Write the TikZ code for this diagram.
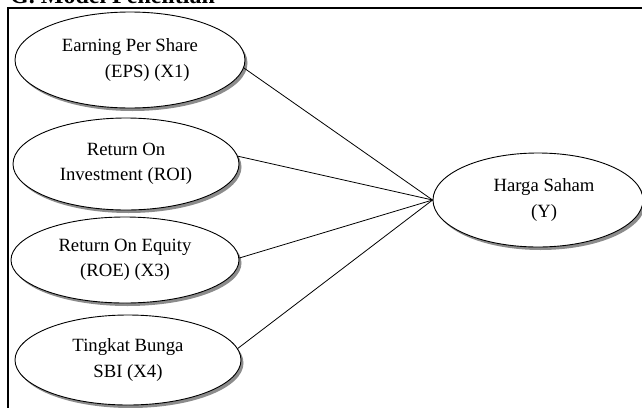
\documentclass[tikz,border=0pt]{standalone}
\usepackage{fontspec}
\setmainfont{Liberation Serif}
\usetikzlibrary{shapes.geometric,shadows}
\begin{document}
\begin{tikzpicture}[x=1pt,y=-1pt]
			\tikzset{var/.style = {shape=ellipse,draw,line width=0.9pt,fill=white,inner sep=0pt,
				font=\fontsize{18.7}{25.5}\selectfont,
				drop shadow={shadow xshift=2.5pt,shadow yshift=-3pt,fill=black!45,opacity=1}}}
			\tikzset{link/.style = {line width=0.8pt}}
			\useasboundingbox (0,0) rectangle (642,407);
			% Title and frame
			\node[anchor=base west,inner sep=0pt,font=\fontsize{24}{28}\selectfont\bfseries] (title) at (10,3) {G. Model Penelitian};
			\draw[line width=2pt] (8,420) -- (8,8) -- (660,8);
			% Draw the variables
			\node[var,minimum width=230,minimum height=96,align=left] (X1) at (130,60) {Earning Per Share\\\hspace*{2.3em}(EPS) (X1)};
			\node[var,minimum width=226,minimum height=92,align=center] (X2) at (126,164) {Return On\\Investment (ROI)};
			\node[var,minimum width=228,minimum height=86,align=center] (X3) at (125,260) {Return On Equity\\(ROE) (X3)};
			\node[var,minimum width=226,minimum height=90,align=center] (X4) at (128,360) {Tingkat Bunga\\SBI (X4)};
			\node[var,minimum width=210,minimum height=94,align=center] (Y) at (538,200) {\hspace*{12pt}Harga Saham\\\hspace*{12pt}(Y)};
			\draw[link] (X1.-4) -- (Y.west);
			\draw[link] (X2.4) -- (Y.west);
			\draw[link] (X3.1) -- (Y.west);
			\draw[link] (X4.6) -- (Y.west);
		\end{tikzpicture}
\end{document}
